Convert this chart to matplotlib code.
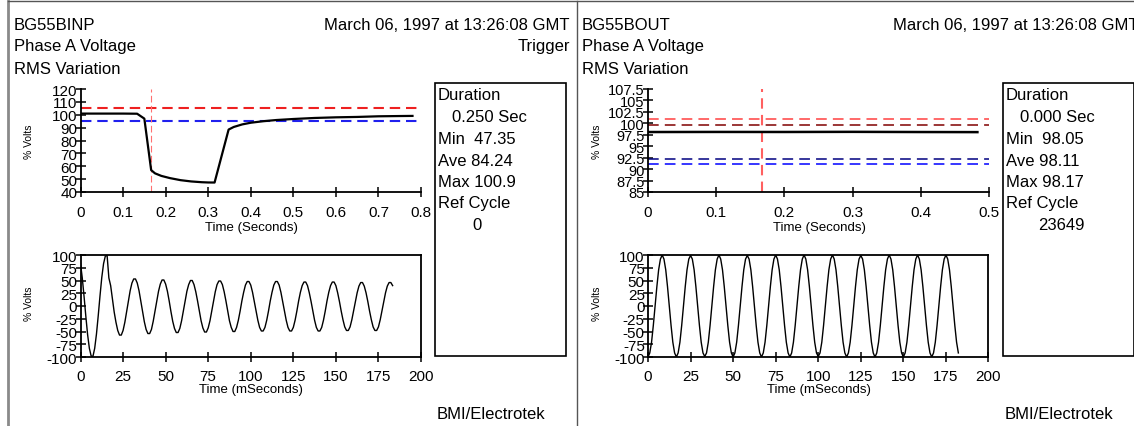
import numpy as np
import matplotlib
matplotlib.use("Agg")
import matplotlib.pyplot as plt
from matplotlib.patches import Rectangle
from matplotlib.lines import Line2D

plt.rcParams['font.family'] = ['Liberation Sans', 'DejaVu Sans']
plt.rcParams['axes.unicode_minus'] = False

W, H = 1134, 427

# ---------------- data ----------------
# RMS trace, input monitor (BG55BINP)
rms_in_t = [0.0, 0.05, 0.10, 0.133, 0.15, 0.166, 0.175, 0.19, 0.21, 0.235, 0.26,
            0.285, 0.30, 0.315, 0.348, 0.36, 0.38, 0.40, 0.43, 0.46, 0.50, 0.55,
            0.60, 0.65, 0.70, 0.75, 0.78]
rms_in_v = [100.9, 100.9, 100.9, 100.8, 97.0, 57.0, 54.5, 52.5, 50.8, 49.2, 48.2,
            47.6, 47.4, 47.35, 88.5, 90.5, 92.5, 93.8, 95.0, 95.9, 96.7, 97.5,
            98.0, 98.3, 98.8, 99.0, 99.1]
in_upper_limit = 105.5
in_lower_limit = 95.0
trigger_time = 0.1667

# RMS trace, output monitor (BG55BOUT)
rms_out_t = [0.0, 0.1, 0.2, 0.3, 0.4, 0.483]
rms_out_v = [98.10, 98.12, 98.11, 98.14, 98.10, 98.08]
out_upper_limits = [100.85, 99.7]
out_lower_limits = [92.1, 91.2]

# waveform samples (16 samples per 60 Hz cycle)
wave_step_ms = 1000.0 / 960.0
wave_in = [
    83, 55, 19, -20, -56, -83, -98, -99, -83, -55, -19, 20, 56, 83, 98, 99,
    55, 40, 14, -12, -32, -48, -57, -57, -48, -32, -11, 11, 30, 45, 53, 53,
    45, 30, 10, -11, -31, -46, -54, -54, -46, -30, -10, 10, 29, 43, 51, 51,
    43, 29, 10, -11, -30, -44, -52, -52, -44, -29, -10, 10, 29, 42, 50, 50,
    42, 28, 10, -10, -29, -43, -51, -51, -43, -29, -10, 10, 28, 42, 49, 49,
    42, 28, 10, -10, -29, -42, -50, -50, -42, -28, -10, 10, 27, 41, 48, 48,
    41, 27, 9, -10, -28, -42, -49, -49, -42, -28, -10, 10, 27, 41, 48, 48,
    41, 27, 9, -10, -28, -42, -49, -49, -42, -28, -10, 10, 27, 40, 47, 47,
    40, 26, 9, -10, -28, -42, -49, -49, -42, -28, -10, 10, 27, 40, 47, 47,
    40, 26, 9, -10, -27, -41, -48, -48, -41, -27, -9, 9, 26, 39, 46, 46,
    39, 26, 9, -10, -27, -41, -48, -48, -41, -27, -9, 9, 26, 39, 46, 46,
    40,
]
wave_out = [
    -100, -92, -71, -38, 0, 38, 71, 92, 100, 92, 71, 38, 0, -38, -71, -92,
    -100, -92, -71, -38, 0, 38, 71, 92, 99, 92, 71, 38, 0, -38, -71, -92,
    -99, -92, -71, -38, 0, 38, 71, 92, 100, 92, 71, 38, 0, -38, -71, -92,
    -100, -92, -71, -38, 0, 38, 71, 92, 99, 92, 71, 38, 0, -38, -71, -92,
    -100, -92, -71, -38, 0, 38, 71, 92, 100, 92, 71, 38, 0, -38, -71, -92,
    -100, -92, -71, -38, 0, 38, 71, 92, 100, 92, 71, 38, 0, -38, -71, -92,
    -99, -92, -71, -38, 0, 38, 71, 92, 100, 92, 71, 38, 0, -38, -71, -92,
    -100, -92, -71, -38, 0, 38, 71, 92, 99, 92, 71, 38, 0, -38, -71, -92,
    -100, -92, -71, -38, 0, 38, 71, 92, 100, 92, 71, 38, 0, -38, -71, -92,
    -100, -92, -71, -38, 0, 38, 71, 92, 100, 92, 71, 38, 0, -38, -71, -92,
    -100, -92, -71, -38, 0, 38, 71, 92, 100, 92, 71, 38, 0, -38, -71, -92,
]

# ticks
in_rms_xticks = [0, 0.1, 0.2, 0.3, 0.4, 0.5, 0.6, 0.7, 0.8]
in_rms_xlabels = ['0', '0.1', '0.2', '0.3', '0.4', '0.5', '0.6', '0.7', '0.8']
in_rms_yticks = [40, 50, 60, 70, 80, 90, 100, 110, 120]
out_rms_xticks = [0, 0.1, 0.2, 0.3, 0.4, 0.5]
out_rms_xlabels = ['0', '0.1', '0.2', '0.3', '0.4', '0.5']
out_rms_yticks = [85, 87.5, 90, 92.5, 95, 97.5, 100, 102.5, 105, 107.5]
out_rms_ylabels = ['85', '87.5', '90', '92.5', '95', '97.5', '100', '102.5', '105', '107.5']
wave_xticks = [0, 25, 50, 75, 100, 125, 150, 175, 200]
wave_yticks = [-100, -75, -50, -25, 0, 25, 50, 75, 100]

# text
panels = [
    dict(site='BG55BINP', sub='Trigger', duration='0.250 Sec', mn='47.35', ave='84.24',
         mx='100.9', ref='0'),
    dict(site='BG55BOUT', sub='', duration='0.000 Sec', mn='98.05', ave='98.11',
         mx='98.17', ref='23649'),
]
date_text = 'March 06, 1997 at 13:26:08 GMT'

# ---------------- figure ----------------
fig = plt.figure(figsize=(W / 100, H / 100), dpi=100)
fig.patch.set_facecolor('white')


def ax_px(x0, y0, x1, y1):
    return fig.add_axes([x0 / W, 1 - y1 / H, (x1 - x0) / W, (y1 - y0) / H])


def ftext(x, y, s, **kw):
    fig.text(x / W, 1 - y / H, s, **kw)


def fline(xs, ys, **kw):
    fig.add_artist(Line2D([x / W for x in xs], [1 - y / H for y in ys],
                          transform=fig.transFigure, **kw))


def style_axes(ax, full_box, xpad, ylabelsize=11):
    for s in ['left', 'bottom', 'top', 'right']:
        ax.spines[s].set_linewidth(1.3)
    if not full_box:
        ax.spines['top'].set_visible(False)
        ax.spines['right'].set_visible(False)
    ax.tick_params(axis='both', direction='inout', length=7, width=1.1,
                   labelsize=11, colors='black')
    ax.tick_params(axis='y', pad=-1.2, labelsize=ylabelsize)
    ax.tick_params(axis='x', pad=xpad)
    ax.set_facecolor('none')


offsets = [0, 568]

for p, off in zip(panels, offsets):
    # header text
    ftext(14 + off, 29.5, p['site'], fontsize=12, va='baseline', ha='left')
    ftext(14 + off, 51.5, 'Phase A Voltage', fontsize=12, va='baseline', ha='left')
    ftext(14 + off, 73.5, 'RMS Variation', fontsize=12, va='baseline', ha='left')
    ftext(570 + off, 29.5, date_text, fontsize=12, va='baseline', ha='right')
    if p['sub']:
        ftext(570 + off, 51.5, p['sub'], fontsize=12, va='baseline', ha='right')

    # info box
    fig.add_artist(Rectangle(((435 + off) / W, 1 - 357 / H), 131 / W, 273 / H,
                             transform=fig.transFigure, fill=False, lw=1.2, ec='black'))
    ftext(438 + off, 100.5, 'Duration', fontsize=12, va='baseline')
    ftext(452 + off, 122, p['duration'], fontsize=12, va='baseline')
    ftext(438 + off, 143.5, 'Min  ' + p['mn'], fontsize=12, va='baseline')
    ftext(438 + off, 165.5, 'Ave ' + p['ave'], fontsize=12, va='baseline')
    ftext(438 + off, 187.5, 'Max ' + p['mx'], fontsize=12, va='baseline')
    ftext(438 + off, 208.5, 'Ref Cycle', fontsize=12, va='baseline')
    ftext(477 + off + (16 if p['ref'] != '0' else 0), 230, p['ref'], fontsize=12,
          va='baseline', ha='center')
    ftext(437 + off, 419, 'BMI/Electrotek', fontsize=12, va='baseline')

    # axis labels
    ftext(251 + off, 228, 'Time (Seconds)', fontsize=9.5, ha='center', va='center')
    ftext(251 + off, 390, 'Time (mSeconds)', fontsize=9.5, ha='center', va='center')
    ftext(29 + off, 141.5, '% Volts', fontsize=7.5, rotation=90, ha='center', va='center')
    ftext(29 + off, 304, '% Volts', fontsize=7.5, rotation=90, ha='center', va='center')

# ---------------- left RMS ----------------
ax1 = ax_px(80.5, 90, 421, 193)
ax1.plot(rms_in_t, rms_in_v, color='black', lw=1.6, zorder=5)
ax1.axhline(in_upper_limit, color='#ee2020', lw=1.5, dashes=(5, 2.8))
ax1.axhline(in_lower_limit, color='#2020ee', lw=1.5, dashes=(5, 2.8))
ax1.axvline(trigger_time, color='#ff7070', lw=0.8, dashes=(6, 3))
ax1.set_xlim(0, 0.8)
ax1.set_ylim(40, 120)
ax1.set_xticks(in_rms_xticks)
ax1.set_xticklabels(in_rms_xlabels)
ax1.set_yticks(in_rms_yticks)
style_axes(ax1, False, 6.2)

# ---------------- right RMS ----------------
ax2 = ax_px(648, 90, 989, 193)
ax2.axhline(out_upper_limits[0], color='#ff4040', lw=1.1, dashes=(7, 4))
ax2.axhline(out_upper_limits[1], color='#800000', lw=1.1, dashes=(7, 4))
ax2.axhline(out_lower_limits[0], color='#000080', lw=1.1, dashes=(7, 4))
ax2.axhline(out_lower_limits[1], color='#0000ff', lw=1.1, dashes=(7, 4))
ax2.axvline(trigger_time, color='#ff6060', lw=1.5, dashes=(5, 3))
ax2.plot(rms_out_t, rms_out_v, color='black', lw=1.8, zorder=5)
ax2.set_xlim(0, 0.5)
ax2.set_ylim(85, 107.5)
ax2.set_xticks(out_rms_xticks)
ax2.set_xticklabels(out_rms_xlabels)
ax2.set_yticks(out_rms_yticks)
ax2.set_yticklabels(out_rms_ylabels)
style_axes(ax2, False, 6.2, ylabelsize=10.5)

# ---------------- waveforms ----------------
for x0, wave in [(80.5, wave_in), (648, wave_out)]:
    ax = ax_px(x0, 256, x0 + 340.5, 358)
    t = np.arange(len(wave)) * wave_step_ms
    ax.plot(t, wave, color='black', lw=1.0)
    ax.set_xlim(0, 200)
    ax.set_ylim(-100, 100)
    ax.set_xticks(wave_xticks)
    ax.set_yticks(wave_yticks)
    style_axes(ax, True, 4.8)

# ---------------- panel borders ----------------
fline([8, 8], [2, 427], color='#8a8a8a', lw=2.0)
fline([8, 1134], [2, 2], color='#555555', lw=1.0)
fline([576.5, 576.5], [2, 427], color='#555555', lw=1.0)

fig.savefig('out.png', dpi=100, facecolor='white')
